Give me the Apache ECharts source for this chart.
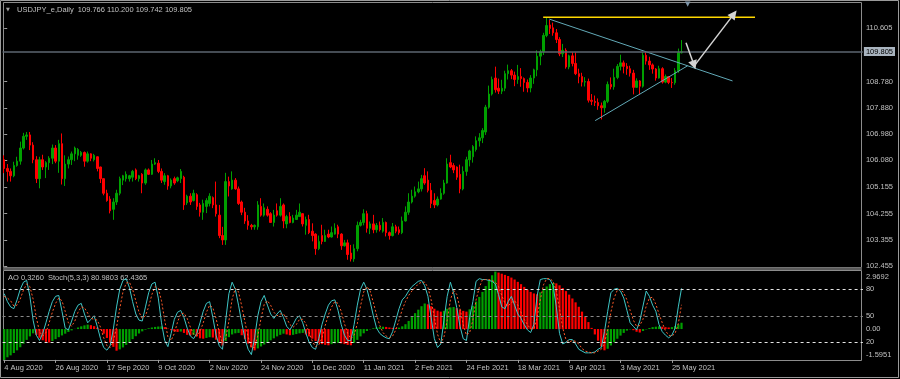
<!DOCTYPE html>
<html>
<head>
<meta charset="utf-8">
<script src="https://cdn.jsdelivr.net/npm/echarts@6.0.0/dist/echarts.min.js"></script>
<style>
  html, body { margin: 0; padding: 0; background: #000; }
  #chart { width: 900px; height: 379px; }
</style>
</head>
<body>
<div id="chart"></div>
<script>
// daily bars from 4 Aug 2020 to 28 May 2021, [open, high, low, close]
const ohlc = [
  [106.10,106.25,105.64,105.80],[105.80,105.95,105.35,105.70],[105.70,105.80,105.35,105.55],[105.55,106.03,105.50,105.90],
  [105.90,106.20,105.86,106.05],[106.05,106.72,105.93,106.50],[106.50,107.02,106.45,106.90],[106.90,107.05,106.78,106.95],
  [106.95,107.05,106.43,106.60],[106.60,106.70,105.98,106.10],[106.10,106.22,105.30,105.45],[105.45,106.20,105.12,106.10],
  [106.10,106.27,105.75,105.85],[105.85,106.05,105.47,106.00],[106.00,106.22,105.75,106.15],[106.15,106.62,105.95,106.50],
  [106.50,106.60,105.98,106.05],[106.05,106.78,105.65,106.65],[106.65,107.00,105.25,105.45],[105.45,106.25,105.20,105.95],
  [105.95,106.21,105.80,106.10],[106.10,106.38,105.92,106.30],[106.30,106.55,106.05,106.50],[106.25,106.50,106.10,106.45],
  [106.25,106.40,106.20,106.35],[106.35,106.38,105.86,106.05],[106.05,106.38,106.00,106.30],[106.30,106.32,106.05,106.15],
  [106.10,106.30,106.04,106.25],[106.20,106.21,105.70,105.80],[105.85,105.86,105.30,105.45],[105.45,105.46,104.88,104.95],
  [104.95,105.07,104.66,104.70],[104.75,104.85,104.26,104.35],[104.40,104.78,104.04,104.65],[104.65,105.07,104.55,104.95],
  [104.95,105.52,104.88,105.45],[105.40,105.58,105.23,105.55],[105.45,105.70,105.35,105.60],[105.45,105.58,105.35,105.55],
  [105.50,105.75,105.35,105.70],[105.75,105.80,105.40,105.45],[105.45,105.58,105.35,105.55],[105.60,105.64,104.95,105.30],
  [105.30,105.80,105.24,105.75],[105.75,105.80,105.58,105.60],[105.60,106.09,105.58,105.95],[105.95,106.15,105.92,106.00],
  [105.98,106.09,105.64,105.70],[105.70,105.80,105.30,105.40],[105.35,105.64,105.24,105.55],[105.55,105.58,105.07,105.20],
  [105.20,105.46,105.12,105.40],[105.45,105.52,105.24,105.30],[105.38,105.52,105.33,105.48],[105.45,105.78,105.30,105.70],
  [105.50,105.55,104.38,104.55],[104.62,104.90,104.55,104.85],[104.85,104.95,104.55,104.65],[104.70,105.07,104.67,104.95],
  [104.90,104.95,104.38,104.50],[104.55,104.62,104.15,104.30],[104.30,104.73,104.04,104.60],[104.50,104.78,104.27,104.70],
  [104.60,104.95,104.50,104.85],[104.80,104.84,104.44,104.55],[104.55,105.35,104.15,104.25],[104.20,104.55,103.41,103.50],
  [103.50,103.80,103.18,103.35],[103.35,105.65,103.18,105.35],[105.35,105.52,104.84,105.20],[105.10,105.70,105.07,105.40],
  [105.40,105.47,105.07,105.10],[105.10,105.18,104.55,104.60],[104.65,104.70,104.20,104.30],[104.30,104.45,103.90,104.00],
  [104.00,104.20,103.70,103.85],[103.85,103.90,103.70,103.80],[103.80,103.88,103.70,103.85],[103.80,104.68,103.70,104.55],
  [104.50,104.78,104.15,104.20],[104.20,104.60,104.15,104.45],[104.40,104.50,104.15,104.20],[104.25,104.30,103.93,103.95],
  [103.95,104.38,103.81,104.20],[104.35,104.60,104.15,104.20],[104.20,104.78,104.15,104.50],[104.55,104.60,103.75,104.00],
  [103.90,104.21,103.75,104.15],[104.15,104.30,103.92,103.95],[103.95,104.21,103.92,104.10],[104.05,104.38,104.04,104.20],
  [104.15,104.60,104.15,104.30],[104.25,104.27,103.81,103.90],[103.85,104.15,103.53,104.05],[104.05,104.21,103.55,103.60],
  [103.65,103.92,103.30,103.50],[103.55,103.58,102.84,103.05],[103.05,103.50,103.00,103.30],[103.50,103.87,103.20,103.30],
  [103.30,103.70,103.28,103.50],[103.55,103.70,103.41,103.45],[103.45,103.81,103.43,103.60],[103.55,103.92,103.53,103.75],
  [103.80,103.87,103.41,103.55],[103.55,103.58,103.01,103.15],[103.15,103.35,103.12,103.25],[103.25,103.36,102.67,102.85],
  [102.90,103.18,102.61,102.70],[102.70,103.20,102.60,103.05],[103.05,103.98,102.96,103.85],[103.85,104.04,103.81,103.95],
  [103.95,104.40,103.85,104.25],[104.25,104.35,103.60,103.75],[103.75,103.98,103.55,103.90],[103.90,104.21,103.58,103.70],
  [103.70,103.93,103.60,103.85],[103.85,103.98,103.64,103.70],[103.65,104.10,103.60,103.95],[103.95,103.98,103.47,103.60],
  [103.60,103.64,103.36,103.50],[103.50,103.93,103.47,103.80],[103.80,103.87,103.58,103.65],[103.70,103.81,103.53,103.60],
  [103.60,104.15,103.55,104.00],[104.00,104.50,103.98,104.30],[104.30,104.95,104.21,104.65],[104.65,105.07,104.60,104.85],
  [104.85,105.18,104.80,105.00],[105.00,105.35,104.95,105.10],[105.10,105.58,105.01,105.45],[105.55,105.81,105.24,105.30],
  [105.40,105.70,104.98,105.05],[105.05,105.30,104.44,104.60],[104.70,104.95,104.44,104.55],[104.55,104.84,104.50,104.75],
  [104.75,105.12,104.73,104.95],[104.95,105.41,104.90,105.30],[105.30,106.15,105.28,105.95],[106.00,106.27,105.81,105.85],
  [105.90,105.98,105.64,105.75],[105.85,105.87,105.41,105.50],[105.60,105.93,104.95,105.10],[105.10,105.87,105.05,105.70],
  [105.70,106.20,105.55,106.10],[106.10,106.44,105.87,106.40],[106.20,106.60,106.00,106.55],[106.45,106.90,106.38,106.75],
  [106.75,107.01,106.55,106.85],[106.85,107.18,106.67,107.10],[107.05,107.98,106.95,107.90],[107.90,108.64,107.85,108.35],
  [108.35,108.95,108.30,108.85],[108.90,109.29,108.40,108.50],[108.55,108.88,108.35,108.45],[108.45,108.84,108.35,108.55],
  [108.55,109.15,108.45,109.05],[109.05,109.36,108.85,109.15],[109.15,109.21,108.86,109.00],[109.00,109.12,108.62,108.85],
  [108.85,109.35,108.70,108.95],[108.95,109.24,108.60,108.88],[108.88,108.92,108.43,108.75],[108.75,108.85,108.41,108.56],
  [108.56,109.00,108.41,108.90],[108.90,109.22,108.70,109.18],[109.18,109.85,108.96,109.65],[109.65,109.87,109.34,109.80],
  [109.80,110.45,109.69,110.36],[110.36,110.97,110.30,110.70],[110.72,110.89,110.41,110.60],[110.62,110.80,110.35,110.45],
  [110.45,110.58,110.10,110.22],[110.22,110.30,109.65,109.73],[109.73,110.07,109.62,109.85],[109.85,109.92,109.22,109.28],
  [109.28,109.70,109.20,109.66],[109.66,109.78,109.30,109.40],[109.40,109.78,109.00,109.05],[109.05,109.22,108.72,108.95],
  [108.95,109.08,108.61,108.76],[108.76,108.93,108.61,108.78],[108.78,108.88,108.06,108.14],[108.14,108.35,107.97,108.10],
  [108.10,108.30,107.94,108.06],[108.06,108.20,107.81,107.95],[107.95,108.06,107.48,107.88],[107.88,108.15,107.71,108.10],
  [108.10,108.78,108.04,108.68],[108.68,108.92,108.51,108.60],[108.60,109.22,108.50,108.92],[108.92,109.38,108.86,109.30],
  [109.30,109.70,109.16,109.42],[109.42,109.50,109.06,109.30],[109.30,109.41,109.01,109.22],[109.22,109.32,108.95,109.07],
  [109.07,109.18,108.34,108.58],[108.58,108.89,108.56,108.80],[108.80,108.83,108.34,108.62],[108.62,109.78,108.57,109.68],
  [109.68,109.79,109.36,109.48],[109.48,109.63,109.18,109.35],[109.35,109.40,109.05,109.21],[109.21,109.24,108.81,108.90],
  [108.90,109.32,108.88,109.22],[109.22,109.27,108.71,108.76],[108.76,109.02,108.72,108.95],[108.95,108.97,108.69,108.75],
  [108.75,108.90,108.56,108.74],[108.74,109.24,108.67,109.15],[109.15,109.91,109.08,109.77],[109.766,110.200,109.742,109.805]
];

// Awesome Oscillator, one value per bar
const ao = [
  -1.5951,-1.46,-1.36,-1.24,-1.10,-0.94,-0.76,-0.56,-0.38,-0.22,
  -0.30,-0.45,-0.58,-0.66,-0.70,-0.62,-0.52,-0.42,-0.33,-0.24,
  -0.15,-0.07,0.01,0.08,0.14,0.19,0.23,0.20,0.15,0.07,
  -0.05,-0.24,-0.46,-0.70,-0.92,-1.12,-1.05,-0.95,-0.82,-0.67,
  -0.52,-0.37,-0.23,-0.12,-0.03,0.04,0.08,0.11,0.13,0.14,
  0.10,0.02,-0.06,-0.12,-0.15,-0.13,-0.20,-0.30,-0.33,-0.31,
  -0.38,-0.48,-0.50,-0.46,-0.42,-0.44,-0.55,-0.72,-0.85,-0.62,
  -0.42,-0.28,-0.22,-0.20,-0.32,-0.52,-0.75,-0.95,-1.10,-1.00,
  -0.90,-0.80,-0.70,-0.58,-0.48,-0.38,-0.30,-0.24,-0.28,-0.32,
  -0.30,-0.26,-0.22,-0.20,-0.28,-0.38,-0.50,-0.62,-0.72,-0.78,
  -0.82,-0.84,-0.78,-0.74,-0.72,-0.74,-0.78,-0.82,-0.84,-0.72,
  -0.56,-0.38,-0.22,-0.10,-0.02,0.04,0.08,0.10,0.12,0.11,
  0.08,0.06,0.04,0.07,0.14,0.25,0.42,0.62,0.82,1.00,
  1.18,1.32,1.28,1.18,1.05,0.95,0.90,0.94,1.05,1.12,
  1.14,1.08,1.00,0.94,0.90,1.02,1.20,1.42,1.66,1.92,
  2.22,2.52,2.78,2.9692,2.92,2.86,2.80,2.74,2.66,2.56,
  2.44,2.32,2.18,2.04,1.92,1.84,1.80,1.90,2.04,2.20,
  2.32,2.38,2.36,2.26,2.12,1.96,1.78,1.58,1.38,1.15,
  0.90,0.64,0.36,0.06,-0.28,-0.60,-0.90,-1.10,-1.02,-0.85,
  -0.68,-0.50,-0.34,-0.20,-0.08,-0.02,-0.06,-0.14,-0.18,-0.10,
  -0.02,0.05,0.10,0.12,0.14,0.12,0.10,0.08,0.10,0.16,
  0.24,0.3260
];

// Stochastic (5,3,3)
const stochMain = [
  75,66,60,58,68,80,88,90,72,45, 28,22,30,42,55,66,72,73,55,36,
  34,44,55,62,64,52,42,46,50,38, 24,14,11,16,35,60,80,90,92,82,
  66,52,45,44,60,76,86,88,70,42, 22,15,30,46,54,56,48,36,27,24,
  30,42,55,64,66,48,28,16,12,45, 75,88,80,62,42,24,12,6,25,50,
  66,73,62,52,47,52,56,48,38,34, 40,47,50,42,30,20,14,12,24,40,
  52,62,67,68,56,40,28,22,22,40, 62,80,88,80,66,50,36,30,27,25,
  24,32,45,58,68,72,78,83,86,89, 90,84,72,48,24,14,18,45,72,88,
  76,59,38,24,22,48,66,89,92,91, 91,90,89,86,74,60,58,66,72,62,
  52,47,40,34,31,40,72,91,92,92, 91,84,60,30,18,20,23,23,18,12,
  10,8,8,8,9,12,14,32,55,76, 80,81,78,70,56,42,38,34,44,61,
  78,72,62,55,40,32,28,25,28,36, 60,80.9803
];
const stochSignal = [
  72,70,67,61,62,69,79,86,83,69, 48,32,27,31,42,54,64,70,67,55,
  42,38,44,54,60,59,53,47,46,45, 37,25,16,14,21,37,58,77,87,88,
  80,67,54,47,50,60,74,83,81,67, 45,26,22,30,43,52,53,47,37,29,
  27,32,42,54,62,59,47,31,19,24, 44,69,81,77,61,43,26,14,14,27,
  47,63,67,62,54,50,52,52,47,40, 37,40,46,46,41,31,21,15,17,25,
  39,51,60,66,64,55,41,30,24,28, 41,61,77,83,78,65,51,39,31,27,
  25,27,34,45,57,66,73,78,82,86, 88,88,82,68,48,29,19,26,45,68,
  79,74,58,40,28,31,45,68,82,91, 91,91,90,88,83,73,64,61,65,67,
  62,54,46,40,35,35,48,68,85,92, 92,89,78,58,36,23,20,22,21,18,
  13,10,9,8,8,10,12,19,34,54, 70,79,80,76,68,56,45,38,39,46,
  61,70,71,63,52,42,33,28,27,30, 41,62.4365
];

const priceTicks = [110.605, 108.780, 107.880, 106.980, 106.080, 105.155, 104.255, 103.355, 102.455];
const priceMin = 102.422, priceMax = 111.472;
const aoMin = -1.5951, aoMax = 2.9692;
const stochLevels = [80, 50, 20];
const dateLabels = ['4 Aug 2020', '26 Aug 2020', '17 Sep 2020', '9 Oct 2020', '2 Nov 2020', '24 Nov 2020',
  '16 Dec 2020', '11 Jan 2021', '2 Feb 2021', '24 Feb 2021', '18 Mar 2021', '9 Apr 2021', '3 May 2021', '25 May 2021'];
const labelStep = 16;
const totalSlots = 268; // bars plus empty space on the right

// drawn objects, [bar position, price]
const yellowLine = [[167.9, 110.98], [233.9, 110.98]];
const upperTrend = [[169.8, 110.92], [226.9, 108.80]];
const lowerTrend = [[184.1, 107.44], [212.9, 109.32]];
const arrows = [
  [[212.4, 110.11], [214.9, 109.35]],
  [[215.2, 109.35], [227.3, 111.09]]
];

const UP = '#00a000', DOWN = '#ff0000', TXT = '#c0c0c0', FONT = 'Liberation Sans';
const FRAME = '#8c8c8c';

const slots = Array.from({length: totalSlots}, (_, i) => String(i));
const candleData = ohlc.map(r => [r[0], r[3], r[2], r[1]]);
const aoData = ao.map((v, i) => ({
  value: v,
  itemStyle: {color: i === 0 || v > ao[i - 1] ? UP : DOWN}
}));
const last = ohlc[ohlc.length - 1];
const lastClose = last[3];
const showDate = i => i % labelStep === 0 && i / labelStep < dateLabels.length;

const chart = echarts.init(document.getElementById('chart'));

chart.setOption({
  backgroundColor: '#000',
  animation: false,
  grid: [
    {left: 2.6, top: 3, width: 860.28, height: 264},
    {left: 2.6, top: 271.6, width: 860.28, height: 88.3}
  ],
  xAxis: [
    {type: 'category', gridIndex: 0, data: slots, boundaryGap: true, show: false},
    {type: 'value', gridIndex: 0, min: -0.5, max: totalSlots - 0.5, show: false},
    {
      type: 'category', gridIndex: 1, data: slots, boundaryGap: true,
      axisLine: {show: false},
      axisTick: {show: true, interval: i => showDate(i), alignWithLabel: true, length: 3,
        lineStyle: {color: '#a0a0a0'}},
      axisLabel: {interval: i => showDate(i), formatter: (v, i) => dateLabels[i / labelStep] || '',
        align: 'left', color: TXT, fontSize: 7.5, fontFamily: FONT, margin: 4},
      splitLine: {show: false}
    }
  ],
  yAxis: [
    {
      type: 'value', gridIndex: 0, position: 'right', min: priceMin, max: priceMax,
      splitLine: {show: false}, axisLine: {show: false},
      axisTick: {show: true, customValues: priceTicks, length: 3, lineStyle: {color: '#a0a0a0'}},
      axisLabel: {customValues: priceTicks, formatter: v => v.toFixed(3), color: TXT,
        fontSize: 7.5, fontFamily: FONT, margin: 3}
    },
    {
      type: 'value', gridIndex: 1, position: 'right', min: 0, max: 100,
      splitLine: {show: false}, axisLine: {show: false}, axisTick: {show: false},
      axisLabel: {customValues: stochLevels, formatter: v => String(v), color: TXT,
        fontSize: 7.5, fontFamily: FONT, margin: 3}
    },
    {
      type: 'value', gridIndex: 1, position: 'right', min: aoMin, max: aoMax,
      splitLine: {show: false}, axisLine: {show: false}, axisTick: {show: false},
      axisLabel: {
        customValues: [aoMax, 0, aoMin],
        formatter: v => v === 0 ? '0.00' : (v > 0 ? '{t|' + v.toFixed(4) + '}' : '{b|' + v.toFixed(4) + '}'),
        color: TXT, fontSize: 7.5, fontFamily: FONT, margin: 3,
        rich: {
          t: {color: TXT, fontSize: 7.5, fontFamily: FONT, padding: [11, 0, 0, 0]},
          b: {color: TXT, fontSize: 7.5, fontFamily: FONT, padding: [0, 0, 9, 0]}
        }
      }
    }
  ],
  series: [
    {
      type: 'candlestick', xAxisIndex: 0, yAxisIndex: 0, data: candleData, barWidth: 2,
      itemStyle: {color: UP, color0: DOWN, borderColor: UP, borderColor0: DOWN, borderWidth: 1},
      markLine: {
        silent: true, symbol: 'none',
        lineStyle: {color: '#5d6670', width: 1.5, type: 'solid'},
        label: {position: 'end', formatter: lastClose.toFixed(3), backgroundColor: '#a9b4bf',
          color: '#000', padding: [1, 2, 0, 2], fontSize: 7.5, fontFamily: FONT, distance: 1},
        data: [{yAxis: lastClose}]
      }
    },
    {
      type: 'line', xAxisIndex: 1, yAxisIndex: 0, data: upperTrend, symbol: 'none', silent: true,
      lineStyle: {color: '#62aab8', width: 1}
    },
    {
      type: 'line', xAxisIndex: 1, yAxisIndex: 0, data: lowerTrend, symbol: 'none', silent: true,
      lineStyle: {color: '#62aab8', width: 1}
    },
    {
      type: 'line', xAxisIndex: 1, yAxisIndex: 0, data: yellowLine, symbol: 'none', silent: true,
      lineStyle: {color: '#ffd700', width: 1.5},
      markLine: {
        silent: true, symbol: ['none', 'triangle'], symbolSize: 9,
        lineStyle: {color: '#d4d4d4', width: 1.5, type: 'solid'},
        label: {show: false},
        data: arrows.map(a => [{coord: a[0]}, {coord: a[1]}])
      }
    },
    {
      type: 'bar', xAxisIndex: 2, yAxisIndex: 2, data: aoData, barWidth: 2.2, silent: true
    },
    {
      type: 'line', xAxisIndex: 2, yAxisIndex: 1, data: stochMain, symbol: 'none', silent: true,
      lineStyle: {color: '#3ec6c6', width: 1},
      markLine: {
        silent: true, symbol: 'none', label: {show: false},
        data: [
          {yAxis: 80, lineStyle: {color: '#e6e6e6', width: 1, type: [3, 3]}},
          {yAxis: 50, lineStyle: {color: '#8a8a8a', width: 1, type: [3, 3]}},
          {yAxis: 20, lineStyle: {color: '#e6e6e6', width: 1, type: [3, 3]}}
        ]
      }
    },
    {
      type: 'line', xAxisIndex: 2, yAxisIndex: 1, data: stochSignal, symbol: 'none', silent: true,
      lineStyle: {color: '#ff5a28', width: 1, type: [2, 2]}
    }
  ],
  graphic: [
    {type: 'rect', shape: {x: 0.5, y: 0.5, width: 898, height: 377}, style: {fill: null, stroke: '#9a9a9a', lineWidth: 1}, silent: true},
    {type: 'rect', shape: {x: 3.5, y: 2.5, width: 858, height: 265}, style: {fill: null, stroke: FRAME, lineWidth: 1}, silent: true},
    {type: 'rect', shape: {x: 3, y: 267.5, width: 859, height: 2.5}, style: {fill: '#5a5a5a'}, silent: true},
    {type: 'rect', shape: {x: 3.5, y: 270.5, width: 858, height: 90}, style: {fill: null, stroke: FRAME, lineWidth: 1}, silent: true},
    {type: 'text', x: 6, y: 7, style: {text: '\u25BC', fill: '#a0a0a0', font: '5px "DejaVu Sans"'}, silent: true},
    {type: 'text', x: 17, y: 5.5, style: {
      text: 'USDJPY_e,Daily  ' + last.map(v => v.toFixed(3)).join(' '),
      fill: TXT, font: '7.5px "Liberation Sans"'}, silent: true},
    {type: 'text', x: 8, y: 273.5, style: {
      text: 'AO ' + ao[ao.length - 1].toFixed(4) + '  Stoch(5,3,3) ' +
        stochMain[stochMain.length - 1].toFixed(4) + ' ' + stochSignal[stochSignal.length - 1].toFixed(4),
      fill: TXT, font: '7.5px "Liberation Sans"'}, silent: true},
    {type: 'text', x: 685, y: 1, style: {text: '\u25BC', fill: '#7f95a8', font: '7px "DejaVu Sans"'}, silent: true}
  ]
});
</script>
</body>
</html>
